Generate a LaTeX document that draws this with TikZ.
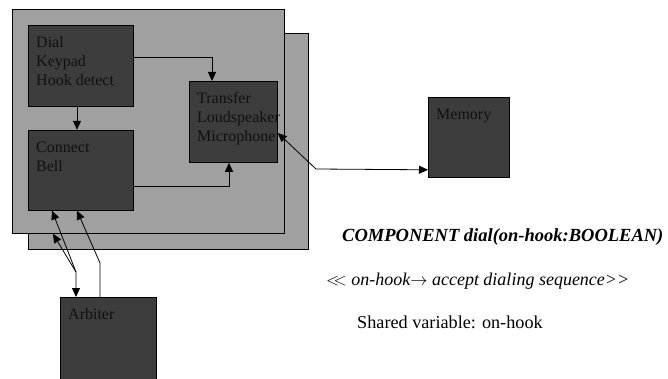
\documentclass[tikz,border=0pt]{standalone}
\usepackage{fontspec}
\setmainfont{Liberation Serif}
\usepackage{tikz}
\usetikzlibrary{positioning,calc,arrows.meta}
\definecolor{panelgray}{HTML}{A0A0A0}
\definecolor{unitfill}{HTML}{3D3D3D}
\definecolor{unittext}{HTML}{111111}
\tikzset{
  panel/.style={draw=black, fill=panelgray, line width=0.8pt, inner sep=0pt, anchor=north west},
  unit/.style={draw=black, fill=unitfill, line width=0.8pt, inner sep=0pt, anchor=north west},
  lbl/.style={anchor=north west, align=left, inner xsep=8pt, inner ysep=11.5pt, text=unittext,
              font=\fontsize{16}{19}\selectfont},
  >={Triangle[length=9pt,width=8pt]},
  flow/.style={->, line width=0.8pt},
  twoway/.style={<->, line width=0.8pt},
  note/.style={anchor=base west, inner sep=0pt},
}

\begin{document}
\begin{tikzpicture}[x=1pt, y=-1pt]
  \useasboundingbox (0,0) rectangle (668,379);
  % two stacked copies of the component
  \node[panel, minimum width=280pt, minimum height=216pt] (back) at (28,33) {};
  \node[panel, minimum width=272pt, minimum height=224pt] (front) at (12,9) {};
  \node[unit, minimum width=105pt, minimum height=81pt,
        label={[lbl]north west:{Dial\\Keypad\\Hook detect}}] (dial) at (28,25) {};
  \node[unit, minimum width=105pt, minimum height=80pt, below=23pt of dial.south west, anchor=north west,
        label={[lbl]north west:{Connect\\Bell}}] (connect) {};
  \node[unit, minimum width=88pt, minimum height=81pt,
        label={[lbl]north west:{Transfer\\Loudspeaker\\Microphone}}] (transfer) at (189,81) {};
  \node[unit, minimum width=81pt, minimum height=80pt,
        label={[lbl]north west:{Memory}}] (memory) at (428,97) {};
  \node[unit, minimum width=96pt, minimum height=84pt,
        label={[lbl]north west:{Arbiter}}] (arbiter) at (60,297) {};
  \draw[flow] ([yshift=-32pt]dial.north east) -| ([xshift=23pt]transfer.north west);
  \draw[flow] ([xshift=49pt]dial.south west) -- ([xshift=49pt]connect.north west);
  \draw[flow] ([yshift=24pt]connect.south east) -| ([xshift=40pt]transfer.south west);
  \coordinate (mbend) at (316,169);
  \draw[twoway] ([yshift=-52pt]transfer.north east) -- (mbend) -- ([yshift=8pt]memory.south west);
  % arbiter links
  \coordinate (abend) at (76,272);
  \coordinate (bbend) at (100,263);
  \draw[twoway] ([xshift=24pt]connect.south west) -- (abend) -- ([xshift=16pt]arbiter.north west);
  \draw[flow] (abend) -- ([xshift=41pt]front.south west);
  \draw[flow] ([xshift=40pt]arbiter.north west) -- (bbend) -- ([xshift=49pt]connect.south west);
  % specification text
  \node[note, font=\fontsize{18.5}{20}\selectfont\bfseries\itshape] (sig) at (342,241) {COMPONENT dial(on-hook:BOOLEAN)};
  \node[note, font=\fontsize{18}{20}\selectfont\itshape] (guard) at (326,285) {$<\!\!<$ on-hook$\rightarrow$ accept dialing sequence{>}{>}};
  \node[note, font=\fontsize{18.2}{20}\selectfont] (shared) at (357,328) {Shared variable: on-hook};
\end{tikzpicture}
\end{document}
